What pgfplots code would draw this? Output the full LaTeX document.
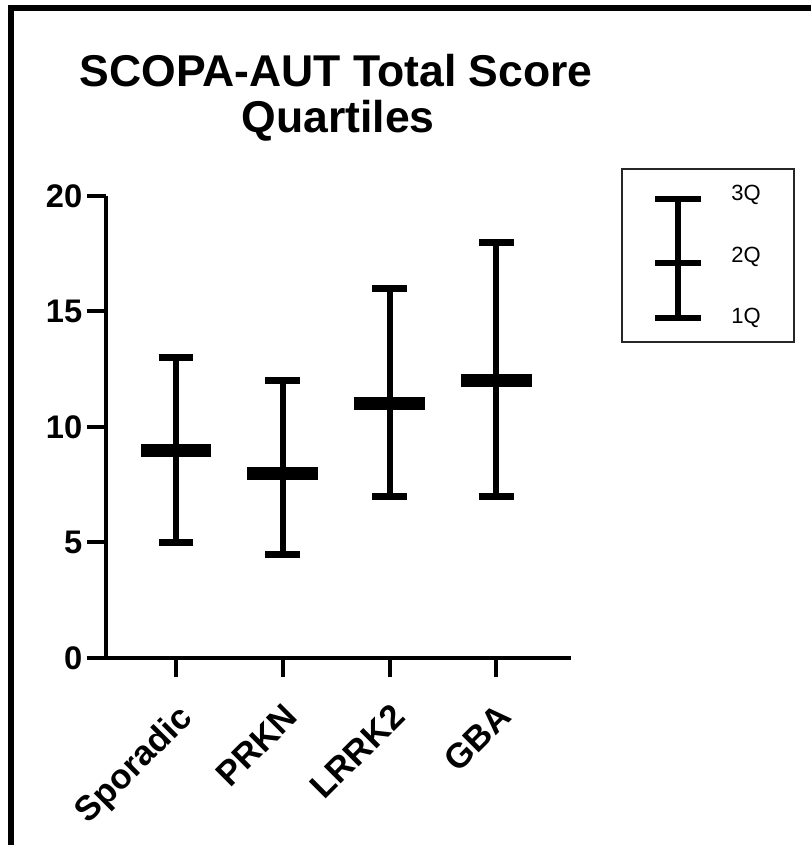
\documentclass[border=0pt]{standalone}
\usepackage{fontspec}
\setmainfont{Liberation Sans}
\usepackage{pgfplots}
\usepackage{pgfplotstable}
\pgfplotsset{compat=1.18}
\pgfplotstableread{
x med ep em
0 9 4 4
1 8 4 3.5
2 11 5 4
3 12 6 5
}\quartiles
\pgfplotstableread{
x med ep em
56 79 64 55
}\legdata
\begin{document}
\begin{tikzpicture}
\useasboundingbox (0,0) rectangle (607.5pt,633.75pt);
% outer frame
\draw[line width=4.5pt, line join=miter] (8.25pt,-10pt) -- (8.25pt,627.4pt) -- (620pt,627.4pt);
% title
\node[anchor=base, font=\fontsize{33.4}{40}\selectfont\bfseries] at (252pt,568.5pt) {SCOPA-AUT Total Score};
\node[anchor=base, font=\fontsize{33.4}{40}\selectfont\bfseries] at (253.5pt,534pt) {Quartiles};
\begin{axis}[
  at={(79.5pt,140.25pt)}, anchor=south west,
  scale only axis, width=348.75pt, height=346.5pt,
  xmin=-0.656, xmax=3.70, ymin=0, ymax=20,
  axis x line*=bottom, axis y line*=left,
  axis line style={line width=3pt, -},
  every tick/.style={line width=3pt, black},
  tick align=outside, major tick length=14.25pt,
  xtick={0,1,2,3}, xticklabels={Sporadic,PRKN,LRRK2,GBA},
  ytick={0,5,10,15,20},
  /pgf/number format/assume math mode=true,
  yticklabel style={font=\fontsize{24.5}{29}\selectfont\bfseries},
  xticklabel style={font=\fontsize{26}{31}\selectfont\bfseries, rotate=45, anchor=north east, inner sep=2pt, xshift=-11pt, yshift=-11pt},
  clip=false,
]
\addplot[black, only marks, mark=none, forget plot,
  error bars/.cd, y dir=both, y explicit, error mark=|,
  error bar style={line width=4.5pt, black},
  error mark options={line width=5.25pt, mark size=13.1pt, black}]
  table[x=x, y=med, y error plus=ep, y error minus=em] {\quartiles};
\addplot[black, only marks, mark=-, mark size=26.6pt,
  mark options={line width=9.75pt, black}]
  table[x=x, y=med] {\quartiles};
\end{axis}
\begin{axis}[
  at={(466.5pt,377.25pt)}, anchor=south west,
  scale only axis, width=129pt, height=129.75pt,
  xmin=0, xmax=172, ymin=0, ymax=173,
  axis line style={line width=1.5pt, black!85},
  xtick=\empty, ytick=\empty, clip=false,
]
\addplot[black, only marks, mark=-, mark size=16.9pt,
  mark options={line width=5pt, black},
  error bars/.cd, y dir=both, y explicit, error mark=|,
  error bar style={line width=4.5pt, black},
  error mark options={line width=5pt, mark size=16.9pt, black}]
  table[x=x, y=med, y error plus=ep, y error minus=em] {\legdata};
\node[font=\fontsize{16.5}{20}\selectfont] at (axis cs:124,147) {3Q};
\node[font=\fontsize{16.5}{20}\selectfont] at (axis cs:124,85) {2Q};
\node[font=\fontsize{16.5}{20}\selectfont] at (axis cs:124,24) {1Q};
\end{axis}
\end{tikzpicture}
\end{document}
